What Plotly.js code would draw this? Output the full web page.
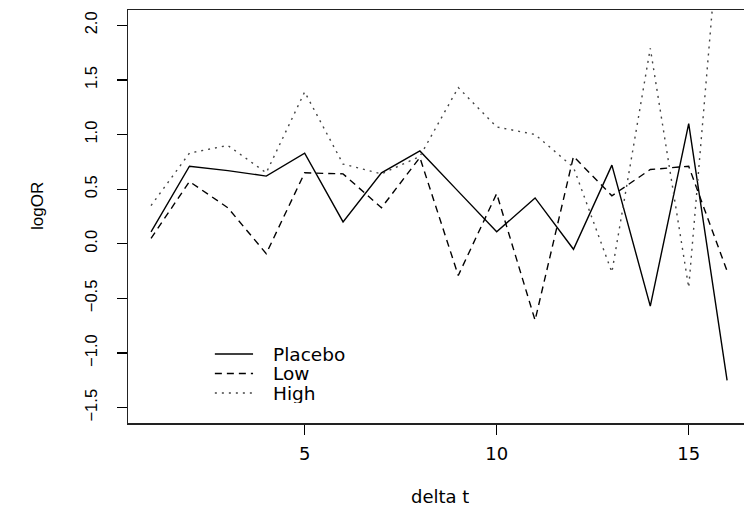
<!DOCTYPE html>
<html>
<head>
<meta charset="utf-8">
<script src="https://cdn.plot.ly/plotly-3.0.1.min.js"></script>
<style>html,body{margin:0;padding:0;background:#fff;}#chart{width:744px;height:506px;}</style>
</head>
<body>
<div id="chart"></div>
<script>
const deltaT = [1,2,3,4,5,6,7,8,9,10,11,12,13,14,15,16];
const placebo = [0.11,0.71,0.67,0.62,0.83,0.20,0.65,0.85,0.48,0.11,0.42,-0.05,0.72,-0.57,1.10,-1.25];
const low = [0.05,0.57,0.33,-0.09,0.65,0.64,0.33,0.79,-0.29,0.46,-0.70,0.80,0.44,0.68,0.71,-0.25];
const high = [0.35,0.83,0.90,0.65,1.39,0.73,0.64,0.80,1.43,1.07,1.00,0.70,-0.26,1.79,-0.40,3.75];
const seriesNames = ['Placebo','Low','High'];
const xTicks = [5,10,15];
const yTicks = [-1.5,-1.0,-0.5,0.0,0.5,1.0,1.5,2.0];
const yTickLabels = ['\u22121.5','\u22121.0','\u22120.5','0.0','0.5','1.0','1.5','2.0'];

const wideFont = 'DejaVu Sans, Liberation Sans, Arial, sans-serif';
const font = 'Liberation Sans, Arial, Helvetica, sans-serif';
const narrowFont = 'Liberation Sans Narrow, Liberation Sans, Arial, sans-serif';

const styles = [
  {color: '#000', width: 1.4, dash: 'solid'},
  {color: '#000', width: 1.4, dash: '7px,5px'},
  {color: '#444', width: 1.4, dash: '2px,5px'}
];
const seriesValues = [placebo, low, high];
const traces = seriesValues.map((vals, i) => ({
  x: deltaT, y: vals, name: seriesNames[i], mode: 'lines', line: styles[i], showlegend: false
}));

// manual legend (R style), positioned in paper coordinates
const legX0 = 0.141, legX1 = 0.203, legTextX = 0.233;
const legRowY = [0.167, 0.120, 0.0726];
const shapes = seriesNames.map((n, i) => ({
  type: 'line', xref: 'paper', yref: 'paper', x0: legX0, x1: legX1, y0: legRowY[i], y1: legRowY[i],
  line: styles[i]
}));
const annotations = seriesNames.map((n, i) => ({
  xref: 'paper', yref: 'paper', x: legTextX, y: legRowY[i], xanchor: 'left', yanchor: 'middle',
  text: n, showarrow: false, height: 19, borderpad: 0,
  font: {family: wideFont, size: 18.5, color: '#000'}
}));
annotations.push({xref: 'paper', yref: 'paper', x: 0.5065, y: -0.177, xanchor: 'center', yanchor: 'middle',
  text: 'delta t', showarrow: false, height: 18, borderpad: 0,
  font: {family: wideFont, size: 18, color: '#000'}});
annotations.push({xref: 'paper', yref: 'paper', x: -0.148, y: 0.525, xanchor: 'center', yanchor: 'middle',
  text: 'logOR', textangle: -90, showarrow: false, font: {family: narrowFont, size: 17, color: '#000'}});

const layout = {
  width: 744, height: 506,
  margin: {l: 128, r: 0, t: 10, b: 83},
  paper_bgcolor: '#fff', plot_bgcolor: '#fff',
  showlegend: false,
  shapes: shapes,
  annotations: annotations,
  xaxis: {
    range: [0.4, 16.44], tickvals: xTicks, ticktext: xTicks.map(String),
    ticks: 'outside', ticklen: 10, tickwidth: 1.2, tickcolor: '#000',
    showline: true, mirror: true, linecolor: '#222', linewidth: 1.5,
    showgrid: false, zeroline: false, ticklabelstandoff: 4,
    tickfont: {family: wideFont, size: 18, color: '#000'}
  },
  yaxis: {
    range: [-1.64, 2.14], tickvals: yTicks, ticktext: yTickLabels, tickangle: -90,
    ticks: 'outside', ticklen: 10, tickwidth: 1.2, tickcolor: '#000',
    showline: true, mirror: false, linecolor: '#222', linewidth: 1.5,
    showgrid: false, zeroline: false, ticklabelstandoff: 13,
    tickfont: {family: font, size: 16.5, color: '#000'}
  }
};
Plotly.newPlot('chart', traces, layout, {displayModeBar: false, staticPlot: true});
</script>
</body>
</html>
